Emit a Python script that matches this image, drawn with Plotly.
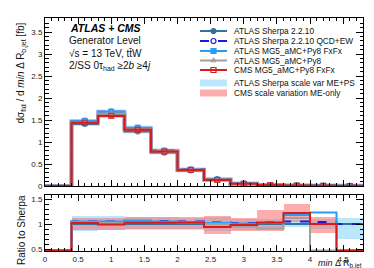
import numpy as np
import plotly.graph_objects as go

# ---------------- data ----------------
bin_edges = [0.0, 0.4, 0.8, 1.2, 1.6, 2.0, 2.4, 2.8, 3.2, 3.6, 4.0, 4.4, 4.8]
bin_centers = [0.6, 1.0, 1.4, 1.8, 2.2, 2.6, 3.0, 3.4, 3.8, 4.2, 4.6]

sherpa = [1.41, 1.61, 1.24, 0.76, 0.355, 0.145, 0.05, 0.02, 0.008, 0.005, 0.004]

ratio_sherpa = [1.0] * 11
ratio_qcdew = [1.05, 1.05, 1.06, 1.06, 1.05, 1.03, 1.02, 1.03, 1.05, 1.04, 1.0]
ratio_fxfx = [1.05, 1.05, 1.07, 1.05, 1.04, 1.02, 1.01, 1.02, 1.18, 1.23, 0.0]
ratio_py8 = [1.03, 1.02, 1.04, 1.04, 1.03, 1.0, 0.95, 0.91, 1.12, 0.0, 0.0]
ratio_cms = [1.02, 0.99, 1.03, 1.03, 1.03, 0.94, 0.98, 1.03, 1.22, 1.0, 0.0]

sherpa_band_up = [1.17, 1.16, 1.15, 1.14, 1.13, 1.14, 1.10, 1.10, 1.08, 1.10, 1.12]
sherpa_band_dn = [0.87, 0.88, 0.88, 0.88, 0.88, 0.87, 0.89, 0.88, 0.95, 0.90, 0.70]
cms_band_up = [1.13, 1.12, 1.14, 1.14, 1.14, 1.17, 1.12, 1.28, 1.40, 1.15, 0.0]
cms_band_dn = [0.89, 0.88, 0.90, 0.90, 0.90, 0.81, 0.86, 0.86, 1.05, 0.83, 0.0]

ratio_range = [0.46, 1.58]
main_range = [0, 3.82]

legend_labels = ["ATLAS Sherpa 2.2.10", "ATLAS Sherpa 2.2.10 QCD+EW",
                 "ATLAS MG5_aMC+Py8 FxFx", "ATLAS MG5_aMC+Py8",
                 "CMS MG5_aMC+Py8 FxFx", "ATLAS Sherpa scale var ME+PS",
                 "CMS scale variation ME-only"]

# ---------------- styles ----------------
c_sherpa = "#34749c"
c_qcd = "#1a1adb"
c_fxfx = "#2a9df4"
c_py8 = "#a0a0a0"
c_cms = "#d71c1c"
c_band_sh = "rgba(140,215,250,0.6)"
c_band_cms = "rgba(250,105,105,0.55)"
FONT = "Liberation Sans, Arial, sans-serif"

sh = np.array(sherpa)
series = [
    ("sherpa", ratio_sherpa, c_sherpa, "solid", "circle", 5),
    ("qcd", ratio_qcdew, c_qcd, "dash", "circle-open", 5),
    ("fxfx", ratio_fxfx, c_fxfx, "solid", "square", 5),
    ("py8", ratio_py8, c_py8, "solid", "triangle-up", 4.5),
    ("cms", ratio_cms, c_cms, "solid", "square-open", 5),
]

fig = go.Figure()


def step_xy(vals):
    y = [0.0] + list(vals)
    return bin_edges, y + [y[-1]]


width = [0.4] * 11

# bands ratio panel
fig.add_trace(go.Bar(x=bin_centers, base=sherpa_band_dn,
                     y=np.array(sherpa_band_up) - np.array(sherpa_band_dn),
                     width=width, marker=dict(color=c_band_sh, line=dict(width=0)),
                     xaxis="x2", yaxis="y2", showlegend=False, hoverinfo="skip"))
cr_dn = np.array(cms_band_dn)
cr_up = np.array(cms_band_up)
fig.add_trace(go.Bar(x=bin_centers[:10], base=cr_dn[:10], y=(cr_up - cr_dn)[:10],
                     width=width[:10], marker=dict(color=c_band_cms, line=dict(width=0)),
                     xaxis="x2", yaxis="y2", showlegend=False, hoverinfo="skip"))

lo = ratio_range[0] + 0.012
for name, r, col, dash, sym, ms in series:
    vals = sh * np.array(r)
    x, y = step_xy(vals)
    fig.add_trace(go.Scatter(x=x, y=y, mode="lines", line=dict(color=col, width=4, shape="hv"),
                             opacity=0.2, xaxis="x", yaxis="y", showlegend=False, hoverinfo="skip"))
    fig.add_trace(go.Scatter(x=x, y=y, mode="lines", line=dict(color=col, width=2, dash=dash, shape="hv"),
                             xaxis="x", yaxis="y", showlegend=False, hoverinfo="skip"))
    fig.add_trace(go.Scatter(x=bin_centers, y=vals, mode="markers",
                             marker=dict(color=col, symbol=sym, size=ms, opacity=0.8,
                                         line=dict(color=col, width=1.2)),
                             xaxis="x", yaxis="y", showlegend=False, hoverinfo="skip"))
    rr = np.clip(np.array([0.0] + list(r)), lo, ratio_range[1])
    yr = list(rr) + [rr[-1]]
    fig.add_trace(go.Scatter(x=bin_edges, y=yr, mode="lines", line=dict(color=col, width=2, dash=dash, shape="hv"),
                             xaxis="x2", yaxis="y2", showlegend=False, hoverinfo="skip"))

# ---------------- manual legend (pixel-like overlay axis) ----------------
leg_y = [23, 33, 43, 52.5, 62, 75, 85]
lx0, lx1, lxm, ltx = 192, 219, 205.5, 224
for i in range(5):
    _, _, col, dash, sym, ms = series[i]
    fig.add_trace(go.Scatter(x=[lx0, lx1], y=[leg_y[i]] * 2, mode="lines",
                             line=dict(color=col, width=2, dash=dash), xaxis="x3", yaxis="y3",
                             showlegend=False, hoverinfo="skip"))
    fig.add_trace(go.Scatter(x=[lxm], y=[leg_y[i]], mode="markers",
                             marker=dict(color=col, symbol=sym, size=ms, line=dict(color=col, width=1.2)),
                             xaxis="x3", yaxis="y3", showlegend=False, hoverinfo="skip"))
shapes = []
for i, colb in [(5, c_band_sh), (6, c_band_cms)]:
    shapes.append(dict(type="rect", xref="x3", yref="y3", x0=lx0, x1=lx1,
                       y0=leg_y[i] - 3.5, y1=leg_y[i] + 3.5, fillcolor=colb, line=dict(width=0)))
annotations = []
for i, t in enumerate(legend_labels):
    annotations.append(dict(x=ltx, y=leg_y[i], xref="x3", yref="y3", text=t, showarrow=False,
                            xanchor="left", yanchor="middle", font=dict(size=8.3, family=FONT, color="#111")))

H_bot, H_top, L, R = 243, 10, 37, 355
ph = H_bot - H_top
pw = R - L


def px(xp):
    return (xp - L) / pw


def py(yp):
    return (H_bot - yp) / ph


annotations += [
    dict(x=60, y=20, xref="x3", yref="y3", text="<b><i>ATLAS + CMS</i></b>", showarrow=False,
         xanchor="left", yanchor="middle", font=dict(size=10.5, family=FONT, color="black")),
    dict(x=59, y=32.5, xref="x3", yref="y3", text="Generator Level", showarrow=False,
         xanchor="left", yanchor="middle", font=dict(size=10, family=FONT, color="#111")),
    dict(x=59, y=45, xref="x3", yref="y3", text="√s = 13 TeV, tt̄W", showarrow=False,
         xanchor="left", yanchor="middle", font=dict(size=10, family=FONT, color="#111")),
    dict(x=59, y=58, xref="x3", yref="y3",
         text="2/SS 0τ<sub>had</sub> ≥2<i>b</i> ≥4<i>j</i>", showarrow=False,
         xanchor="left", yanchor="middle", font=dict(size=10, family=FONT, color="#111")),
    dict(x=px(13), y=py(13), xref="paper", yref="paper",
         text="dσ<sub>fid</sub> / d <i>min</i> Δ R<sub>b,jet</sub> [fb]", textangle=-90,
         showarrow=False, xanchor="center", yanchor="top", font=dict(size=10, family=FONT, color="#111")),
    dict(x=px(13), y=py(222), xref="paper", yref="paper", text="Ratio to Sherpa", textangle=-90,
         showarrow=False, xanchor="center", yanchor="middle", font=dict(size=10, family=FONT, color="#111")),
    dict(x=1.0, y=py(249), xref="paper", yref="paper", text="<i>min</i> Δ R<sub>b,jet</sub>",
         showarrow=False, xanchor="right", yanchor="top", borderpad=0,
         font=dict(size=9, family=FONT, color="#111")),
]

tickfont = dict(size=8, family=FONT, color="#222")
common_x = dict(range=[0, 4.8], dtick=0.5, tick0=0, ticks="inside", ticklen=6, tickcolor="black",
                showline=True, linecolor="black", linewidth=1, mirror="ticks", showgrid=False,
                zeroline=False, minor=dict(dtick=0.1, ticks="inside", ticklen=3, tickcolor="black"),
                tickfont=tickfont)
common_y = dict(ticks="inside", ticklen=7, tickcolor="black", showline=True, linecolor="black",
                linewidth=1, mirror="ticks", showgrid=False, zeroline=False,
                minor=dict(dtick=0.1, ticks="inside", ticklen=3.5, tickcolor="black"), tickfont=tickfont)

fig.update_layout(
    width=374, height=268,
    margin=dict(l=L, r=374 - R, t=H_top, b=268 - H_bot),
    paper_bgcolor="white", plot_bgcolor="rgba(0,0,0,0)",
    barmode="overlay", bargap=0,
    xaxis=dict(common_x, anchor="y", showticklabels=False),
    yaxis=dict(common_y, anchor="x", domain=[py(178), 1], range=main_range,
               tickvals=[0, 0.5, 1, 1.5, 2, 2.5, 3, 3.5], ticktext=["0", "0.5", "1", "1.5", "2", "2.5", "3", "3.5"]),
    xaxis2=dict(common_x, anchor="y2", ticklabelstandoff=0),
    yaxis2=dict(common_y, anchor="x2", domain=[0, py(187)], range=ratio_range,
                tickvals=[0.5, 1, 1.5], ticktext=["0.5", "1", "1.5"]),
    xaxis3=dict(range=[L, R], domain=[0, 1], anchor="y3", visible=False, fixedrange=True),
    yaxis3=dict(range=[H_bot, H_top], domain=[0, 1], anchor="x3", visible=False, fixedrange=True),
    shapes=shapes, annotations=annotations, showlegend=False,
)
fig.write_html("out.html")
